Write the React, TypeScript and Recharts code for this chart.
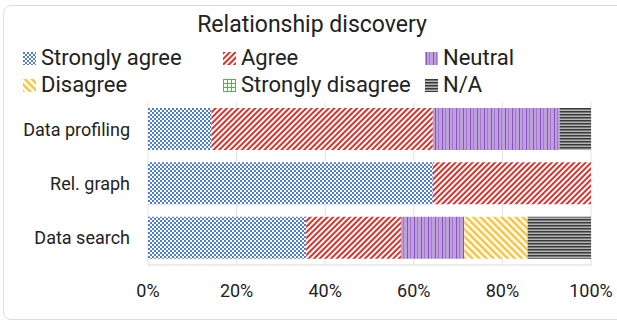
import * as React from 'react';
import { BarChart, Bar, XAxis, YAxis, CartesianGrid } from 'recharts';

// values in percent of respondents (14 per row)
const categories = ['Data profiling', 'Rel. graph', 'Data search'];
const stronglyAgree = [14.3, 64.3, 35.7];
const agree = [50, 35.7, 21.4];
const neutral = [28.6, 0, 14.3];
const disagree = [0, 0, 14.3];
const stronglyDisagree = [0, 0, 0];
const notApplicable = [7.1, 0, 14.3];
const xTicks = [0, 20, 40, 60, 80, 100];

const series = [
    { key: 'sa', name: 'Strongly agree', values: stronglyAgree, pat: 'check' },
    { key: 'a', name: 'Agree', values: agree, pat: 'red' },
    { key: 'n', name: 'Neutral', values: neutral, pat: 'purple' },
    { key: 'd', name: 'Disagree', values: disagree, pat: 'yellow' },
    { key: 'sd', name: 'Strongly disagree', values: stronglyDisagree, pat: 'green' },
    { key: 'na', name: 'N/A', values: notApplicable, pat: 'black' },
];

const data = categories.map((name, i) => {
    const row: any = { name };
    series.forEach(s => { row[s.key] = s.values[i]; });
    return row;
});

const font = 'Roboto, "Noto Sans", sans-serif';

// pattern fills, prefix keeps ids unique per svg
function Patterns(props: { prefix: string }) {
    const p = props.prefix;
    return (
        <defs>
            <pattern id={p + 'check'} width="4" height="4" patternUnits="userSpaceOnUse">
                <rect width="4" height="4" fill="#ffffff" />
                <rect width="2" height="2" fill="#4f7fd6" />
                <rect x="2" y="2" width="2" height="2" fill="#4f7fd6" />
            </pattern>
            <pattern id={p + 'red'} width="4" height="4" patternUnits="userSpaceOnUse" patternTransform="rotate(45)">
                <rect width="4" height="4" fill="#ffffff" />
                <rect width="2" height="4" fill="#d8322c" />
            </pattern>
            <pattern id={p + 'purple'} width="7" height="4" patternUnits="userSpaceOnUse">
                <rect width="7" height="4" fill="#bca0da" />
                <rect x="1" width="1" height="4" fill="#8c4fc6" />
                <rect x="4" width="1" height="4" fill="#a376d0" />
            </pattern>
            <pattern id={p + 'yellow'} width="5" height="5" patternUnits="userSpaceOnUse" patternTransform="rotate(-45)">
                <rect width="5" height="5" fill="#ffffff" />
                <rect width="2.5" height="5" fill="#f6c33c" />
            </pattern>
            <pattern id={p + 'green'} width="4" height="4" patternUnits="userSpaceOnUse">
                <rect width="4" height="4" fill="#ffffff" />
                <rect width="1" height="4" fill="#4fb83e" />
                <rect width="4" height="1" fill="#4fb83e" />
            </pattern>
            <pattern id={p + 'black'} width="4" height="3" patternUnits="userSpaceOnUse">
                <rect width="4" height="3" fill="#b4b4b4" />
                <rect width="4" height="1.5" fill="#3a3a3a" />
            </pattern>
        </defs>
    );
}

const legendPos = [
    { x: 23, y: 47 }, { x: 223, y: 47 }, { x: 425, y: 47 },
    { x: 23, y: 74 }, { x: 223, y: 74 }, { x: 425, y: 74 },
];

export default function App() {
    return (
        <div style={{ position: 'fixed', left: 0, top: 0, width: 617, height: 322, background: '#fff', overflow: 'hidden', fontFamily: font }}>
            <div style={{ position: 'absolute', left: 3, top: 5, width: 630, height: 313, border: '1px solid #dcdcdc', borderRadius: 8 }} />
            <div style={{ position: 'absolute', left: 0, top: 13, width: 624, textAlign: 'center', fontSize: 23, lineHeight: '23px', color: '#222' }}>
                Relationship discovery
            </div>
            {series.map((s, i) => (
                <div key={s.key} style={{ position: 'absolute', left: legendPos[i].x, top: legendPos[i].y, height: 22, whiteSpace: 'nowrap', fontSize: 22, lineHeight: '22px', color: '#222' }}>
                    <svg width="13" height="13" style={{ position: 'absolute', left: 0, top: 5 }}>
                        <Patterns prefix={'lg' + i} />
                        <rect width="13" height="13" fill={'url(#lg' + i + s.pat + ')'} />
                    </svg>
                    <span style={{ position: 'absolute', left: 18 }}>{s.name}</span>
                </div>
            ))}
            <div style={{ position: 'absolute', left: 0, top: 0 }}>
                <BarChart width={617} height={322} data={data} layout="vertical"
                          margin={{ top: 102, right: 26, bottom: 27, left: 0 }}>
                    <Patterns prefix="bar" />
                    <CartesianGrid horizontal={false} stroke="#e2e2e2" />
                    <XAxis type="number" domain={[0, 100]} ticks={xTicks} tickFormatter={v => v + '%'}
                           stroke="#d9d9d9" tickLine={false} tickMargin={13} height={30}
                           tick={{ fill: '#222', fontSize: 18, fontFamily: font }} />
                    <YAxis type="category" dataKey="name" width={148} axisLine={false} tickLine={false} tickMargin={12}
                           tick={{ fill: '#222', fontSize: 18, fontFamily: font }} />
                    {series.map(s => (
                        <Bar key={s.key} dataKey={s.key} name={s.name} stackId="a" barSize={42}
                             fill={'url(#bar' + s.pat + ')'} isAnimationActive={false} />
                    ))}
                </BarChart>
            </div>
        </div>
    );
}
